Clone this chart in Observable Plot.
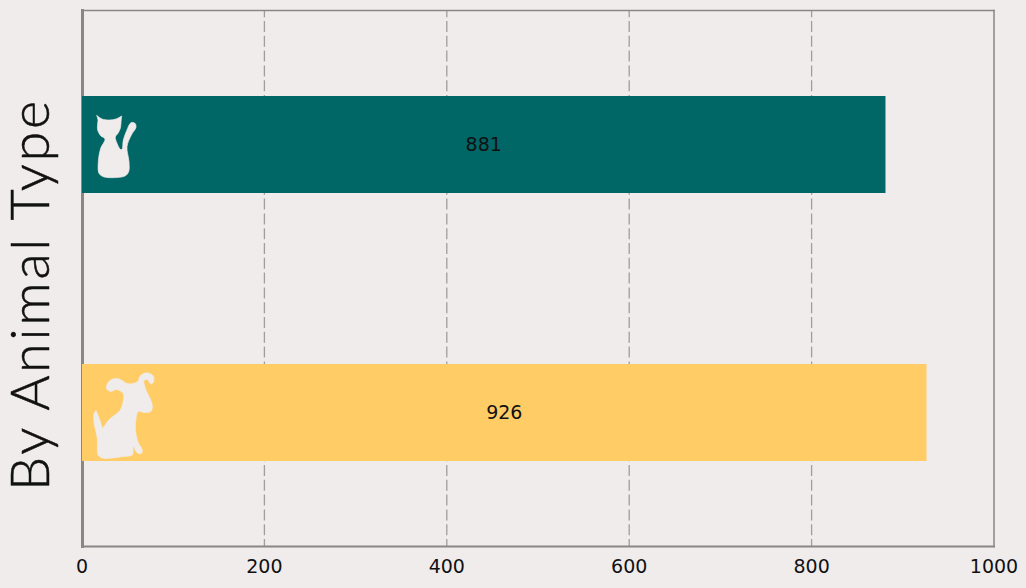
<!DOCTYPE html>
<html>
<head>
<meta charset="utf-8">
<script src="https://cdn.jsdelivr.net/npm/d3@7"></script>
<script src="https://cdn.jsdelivr.net/npm/@observablehq/plot@0.6"></script>
<style>
html,body{margin:0;padding:0;background:#f0ecec;}
svg{display:block;}
.chart-title{letter-spacing:2.7px;}
</style>
</head>
<body>
<div id="chart"></div>
<script>
const animals = ["Cat", "Dog"];
const counts = [881, 926];
const barColors = ["#006666", "#ffcc66"];
const xTicks = [0, 200, 400, 600, 800, 1000];
const gridTicks = [200, 400, 600, 800];
const titleText = "By Animal Type";

const catOutline = [[80,76],[80,76],[96,87],[118,90],[138,87],[155,78],[155,78],[153,98],[151,115],[144,130],[136,141],[141,160],[151,178],[156,178],[160,150],[170,122],[183,98],[195,100],[198,112],[184,135],[171,170],[177,215],[176,245],[165,258],[130,263],[100,260],[87,250],[85,215],[92,175],[105,147],[92,137],[83,120],[83,100],[84,90]];
const dogOutline = [[78,165],[78,165],[90,195],[97,220],[97,220],[120,190],[150,165],[160,135],[160,115],[140,102],[122,108],[110,100],[112,85],[125,72],[145,70],[175,85],[203,78],[210,62],[230,52],[250,62],[250,80],[242,85],[232,72],[222,75],[225,95],[247,150],[242,168],[222,171],[205,168],[198,190],[197,230],[205,262],[217,285],[212,295],[200,290],[190,272],[187,298],[160,303],[100,308],[85,300],[82,250],[72,200],[72,175]];

const smooth = d3.line().curve(d3.curveCatmullRomClosed.alpha(0.5));
const icon = (pts, w, h) => "data:image/svg+xml," + encodeURIComponent(
  `<svg xmlns="http://www.w3.org/2000/svg" viewBox="0 0 ${w} ${h}" width="${w}" height="${h}"><path d="${smooth(pts)}" fill="#f0ecec" stroke="#f0ecec" stroke-width="2" stroke-linejoin="round"/></svg>`);

const rows = animals.map((a, i) => ({animal: a, count: counts[i], color: barColors[i]}));
const frameColor = "#8a8684";

const chart = Plot.plot({
  width: 1026,
  height: 588,
  marginLeft: 81.5,
  marginRight: 32.5,
  marginTop: 10,
  marginBottom: 42,
  style: {background: "#f0ecec", fontFamily: "'DejaVu Sans', sans-serif"},
  x: {domain: [0, 1000]},
  y: {domain: animals, paddingInner: 0.638, paddingOuter: 0.319, axis: null},
  marks: [
    Plot.gridX(gridTicks, {stroke: "#a09d9c", strokeOpacity: 1, strokeWidth: 1.3, strokeDasharray: "11,3.8", strokeDashoffset: 3.8}),
    Plot.frame({anchor: "top", stroke: frameColor, strokeWidth: 1.5}),
    Plot.frame({anchor: "right", stroke: frameColor, strokeWidth: 1.5}),
    Plot.frame({anchor: "bottom", stroke: frameColor, strokeWidth: 2}),
    Plot.frame({anchor: "left", stroke: frameColor, strokeWidth: 3, dx: 0.5}),
    Plot.barX(rows, {x: "count", y: "animal", fill: "color", dx: 0.5, dy: 1}),
    Plot.image([rows[0]], {x: () => 0, y: "animal", src: () => icon(catOutline, 270, 330), width: 90, height: 110, dx: 33, dy: 1}),
    Plot.image([rows[1]], {x: () => 0, y: "animal", src: () => icon(dogOutline, 330, 345), width: 110, height: 115, dx: 43, dy: 1}),
    Plot.text(rows, {x: d => d.count / 2, y: "animal", text: d => String(d.count), fill: "#111", fontSize: 19, dy: 1}),
    Plot.axisX({ticks: xTicks, tickSize: 0, tickPadding: 13, label: null, fontSize: 19, tickFormat: d => String(d), fill: "#111"}),
    Plot.text([titleText], {className: "chart-title", frameAnchor: "left", text: d => d, rotate: -90, textAnchor: "middle", dx: -50, dy: 16, fontSize: 54, fontFamily: "Lato, sans-serif", fontWeight: 300, fill: "#111", stroke: "#111", strokeWidth: 0.5})
  ]
});
document.getElementById("chart").append(chart);
</script>
</body>
</html>
